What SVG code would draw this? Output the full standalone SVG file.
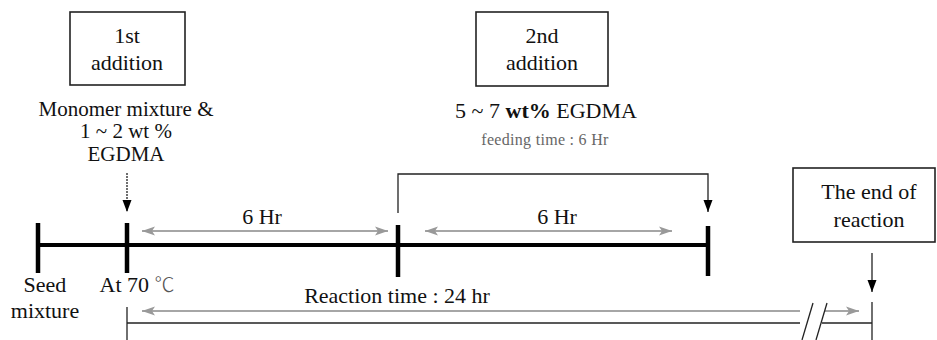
<svg xmlns="http://www.w3.org/2000/svg" width="937" height="340" viewBox="0 0 937 340">
<style>
text{font-family:"Liberation Serif","DejaVu Serif",serif;fill:#111;font-size:22px;text-anchor:middle}
.cjk{font-family:"Noto Sans CJK SC",sans-serif;font-weight:300;fill:#555}
.box{fill:#fff;stroke:#222;stroke-width:1.6}
.tick{stroke:#000;stroke-width:4.5}
.main{stroke:#000;stroke-width:4}
.gray{stroke:#888;stroke-width:1.3;fill:none}
.thin{stroke:#222;stroke-width:1.3;fill:none}
.small{font-size:16px;fill:#666;letter-spacing:0.3px}
.m21{font-size:21px}
</style>
<defs>
<marker id="ga" markerUnits="userSpaceOnUse" markerWidth="14" markerHeight="10" refX="13" refY="5" orient="auto-start-reverse">
<path d="M0,0.5 L13,5 L0,9.5 L3,5 Z" fill="#999"/>
</marker>
<marker id="ba" markerUnits="userSpaceOnUse" markerWidth="13" markerHeight="10" refX="12" refY="5" orient="auto">
<path d="M0,0.5 L12,5 L0,9.5 Z" fill="#000"/>
</marker>
</defs>

<g id="box-1st">
<rect class="box" x="70" y="12" width="115" height="73"/>
<text x="127" y="43">1st</text>
<text x="127" y="70">addition</text>
</g>
<g id="box-2nd">
<rect class="box" x="476" y="12" width="132" height="74"/>
<text x="542" y="43">2nd</text>
<text x="542" y="70">addition</text>
</g>
<g id="box-end">
<rect class="box" x="793" y="168" width="142" height="74"/>
<text x="869" y="199">The end of</text>
<text x="869" y="227">reaction</text>
</g>

<g id="label-monomer">
<text class="m21" x="126" y="116">Monomer mixture &amp;</text>
<text class="m21" x="126" y="138">1 ~ 2 wt %</text>
<text class="m21" x="126" y="161">EGDMA</text>
</g>
<g id="label-egdma2">
<text x="546" y="118">5 ~ 7 <tspan font-weight="bold">wt%</tspan> EGDMA</text>
<text class="small" x="545" y="145">feeding time : 6 Hr</text>
</g>

<g id="timeline">
<line class="main" x1="38" y1="245" x2="708" y2="245"/>
<line class="tick" x1="38" y1="223" x2="38" y2="273"/>
<line class="tick" x1="127" y1="223" x2="127" y2="273"/>
<line class="tick" x1="398" y1="225" x2="398" y2="277"/>
<line class="tick" x1="708" y1="226" x2="708" y2="276"/>
</g>

<g id="labels-time">
<text x="45" y="292">Seed</text>
<text x="45" y="318">mixture</text>
<text x="137" y="292">At 70 <tspan class="cjk" font-size="20">℃</tspan></text>
<text x="262" y="224">6 Hr</text>
<text x="557" y="224">6 Hr</text>
<text x="397" y="303">Reaction time : 24 hr</text>
</g>

<g id="connectors">
<line class="thin" x1="127" y1="173" x2="127" y2="212" marker-end="url(#ba)" stroke-dasharray="2 1"/>
<polyline class="thin" points="398,213 398,174 708,174 708,212" marker-end="url(#ba)"/>
<line class="thin" x1="872" y1="253" x2="872" y2="292" marker-end="url(#ba)"/>
<line class="gray" x1="142" y1="231" x2="388" y2="231" marker-start="url(#ga)" marker-end="url(#ga)"/>
<line class="gray" x1="425" y1="231" x2="672" y2="231" marker-start="url(#ga)" marker-end="url(#ga)"/>
<line class="gray" x1="142" y1="311" x2="800" y2="311" marker-start="url(#ga)"/>
<line class="gray" x1="825" y1="311" x2="859" y2="311" marker-end="url(#ga)"/>
<line class="thin" x1="127" y1="323" x2="800" y2="323"/>
<line class="thin" x1="822" y1="323" x2="872" y2="323"/>
<line class="thin" x1="127" y1="307" x2="127" y2="340"/>
<line class="thin" x1="872" y1="302" x2="872" y2="340"/>
<line class="thin" x1="813" y1="303" x2="802" y2="340"/>
<line class="thin" x1="827" y1="303" x2="816" y2="340"/>
</g>
</svg>
